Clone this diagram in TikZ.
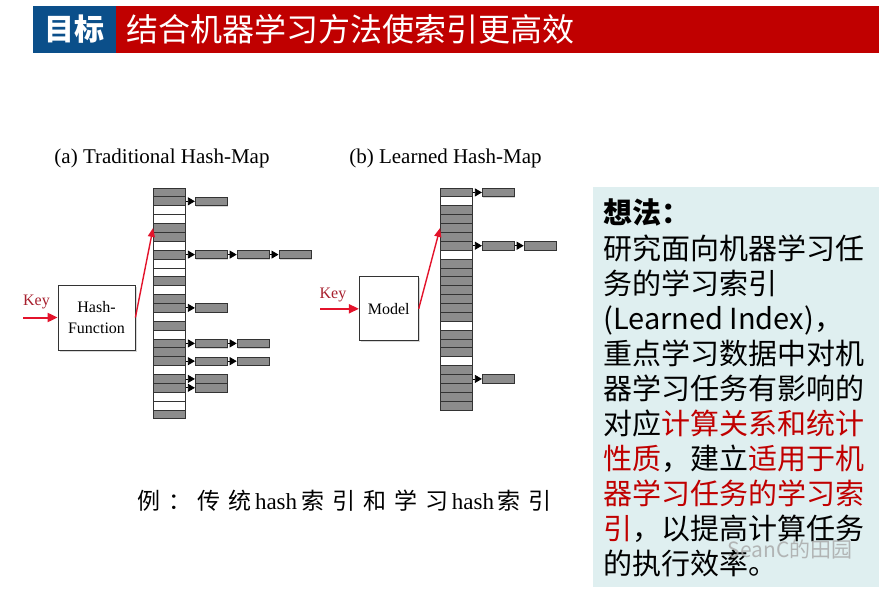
\documentclass[tikz,border=0pt]{standalone}
\usepackage{fontspec}
\setmainfont{Liberation Serif}
\newfontfamily\cjk{Noto Sans CJK SC}
\usetikzlibrary{positioning, arrows.meta, shadows}

\definecolor{hdblue}{HTML}{0B4F8A}
\definecolor{hdred}{HTML}{C00000}
\definecolor{keyred}{HTML}{A8202E}
\definecolor{arrred}{HTML}{E3132B}
\definecolor{slotgray}{HTML}{8C8C8C}
\definecolor{boxbg}{HTML}{DFEFF0}

\newcommand\redtxt[1]{\textcolor{hdred}{#1}}
\newcommand\lsp{\hspace{8pt}}

\begin{document}
\begin{tikzpicture}[
  x=1pt, y=-1pt,
  rowG/.style={
    draw=black!80, fill=slotgray, line width=0.8pt,
    minimum width=32pt, minimum height=8.88pt, inner sep=0pt
  },
  rowW/.style={rowG, fill=white},
  chainbox/.style={rowG, minimum height=8.5pt,
    drop shadow={opacity=0.3, shadow xshift=1pt, shadow yshift=-1pt}
  },
  ptr/.style={-{Triangle[length=7pt, width=8pt]}, line width=0.8pt, black},
  fnbox/.style={
    draw=black!80, fill=white, line width=0.8pt, align=center,
    font=\fontsize{16}{21}\selectfont, inner sep=0pt,
    drop shadow={opacity=0.3, shadow xshift=1.5pt, shadow yshift=-1.5pt}
  },
  keyarrow/.style={-{Triangle[length=10pt, width=9pt]}, draw=arrred, line width=2pt},
  hit/.style={-{Triangle[length=9pt, width=7pt]}, draw=arrred, line width=1.4pt},
  keylabel/.style={text=keyred, font=\fontsize{16}{18}\selectfont},
  maplabel/.style={font=\fontsize{21}{23}\selectfont},
]

\fill[white] (0,0) rectangle (879,591);
\useasboundingbox (0,0) rectangle (879,591);

% header bar
\node[fill=hdblue, minimum width=83pt, minimum height=47pt, inner sep=0pt,
  text=white, font=\cjk\bfseries\fontsize{30}{32}\selectfont] (tag) at (74.5,29.2) {目标};
\node[fill=hdred, minimum width=763pt, minimum height=47pt, inner sep=0pt,
  anchor=west] (bar) at (116,29.2) {};
\node[text=white, font=\cjk\fontsize{32}{36}\selectfont, inner sep=0pt,
  anchor=west] (title) at (126,29.2) {结合机器学习方法使索引更高效};

% (a) traditional
\node[maplabel] (capa) at (162,158) {(a) Traditional Hash-Map};
\foreach \c [count=\i] in {G,G,W,W,G,G,W,G,W,W,G,W,G,G,W,G,W,G,G,G,W,G,G,W,W,G}
  \node[row\c] (t\i) at (169.5,{188+(\i-0.5)*8.88}) {};

\node[chainbox, right=9pt of t2]  (t2a) {};
\node[chainbox, right=9pt of t8]  (t8a) {};
\node[chainbox, right=9pt of t8a] (t8b) {};
\node[chainbox, right=9pt of t8b] (t8c) {};
\node[chainbox, right=9pt of t14] (t14a) {};
\node[chainbox, right=9pt of t18] (t18a) {};
\node[chainbox, right=9pt of t18a] (t18b) {};
\node[chainbox, right=9pt of t20] (t20a) {};
\node[chainbox, right=9pt of t20a] (t20b) {};
\node[chainbox, right=9pt of t22] (t22a) {};
\node[chainbox, right=9pt of t23] (t23a) {};
\foreach \a/\b in {t2/t2a, t8/t8a, t8a/t8b, t8b/t8c, t14/t14a, t18/t18a,
                   t18a/t18b, t20/t20a, t20a/t20b, t22/t22a, t23/t23a}
  \draw[ptr] (\a.east) -- (\b.west);

\node[fnbox, minimum width=77pt, minimum height=65pt] (hash) at (96.5,317.5) {Hash-\\Function};
\coordinate (keya) at (23,317.5);
\node[keylabel] (keyla) at (36.5,302) {Key};
\draw[keyarrow] (keya) -- (hash.west);
\draw[hit] (hash.east) -- (t5.west);

% (b) learned
\node[maplabel] (capb) at (445.5,158) {(b) Learned Hash-Map};
\foreach \c [count=\i] in {G,W,G,G,G,G,G,W,G,G,G,G,G,G,G,W,G,G,G,W,G,G,G,G,G}
  \node[row\c] (l\i) at (456.5,{188+(\i-0.5)*8.88}) {};

\node[chainbox, right=9pt of l1]  (l1a) {};
\node[chainbox, right=9pt of l7]  (l7a) {};
\node[chainbox, right=9pt of l7a] (l7b) {};
\node[chainbox, right=9pt of l22] (l22a) {};
\foreach \a/\b in {l1/l1a, l7/l7a, l7a/l7b, l22/l22a}
  \draw[ptr] (\a.east) -- (\b.west);

\node[fnbox, minimum width=59pt, minimum height=64pt] (model) at (388.8,308.8) {Model};
\coordinate (keyb) at (320,308.8);
\node[keylabel] (keylb) at (333,295) {Key};
\draw[keyarrow] (keyb) -- (model.west);
\draw[hit] (model.east) -- (l5.west);

% caption
\node[anchor=base west, inner sep=0pt, font=\fontsize{23}{25}\selectfont] (cap) at (137,509)
  {{\cjk 例\lsp ：}\hspace{6pt}{\cjk 传\lsp 统}\,hash\,{\cjk 索\lsp 引\lsp 和\lsp 学\lsp 习}\,hash\,{\cjk 索\lsp 引}};

% idea box
\node[fill=boxbg, minimum width=286pt, minimum height=400pt, inner sep=0pt] (box) at (736,387) {};
\node[anchor=north west, inner sep=0pt, align=left,
  font=\cjk\fontsize{29}{35.1}\selectfont] (idea) at (603,199)
  {{\bfseries 想法：}\\研究面向机器学习任\\务的学习索引\\(Learned Index)，\\重点学习数据中对机\\器学习任务有影响的\\对应\redtxt{计算关系和统计}\\\redtxt{性质}，建立\redtxt{适用于机}\\\redtxt{器学习任务的学习索}\\\redtxt{引}，以提高计算任务\\的执行效率。};

% watermark
\node[text=gray!70, opacity=0.8, font=\cjk\fontsize{21}{23}\selectfont] (wm) at (790,549) {SeanC的田园};

\end{tikzpicture}
\end{document}
